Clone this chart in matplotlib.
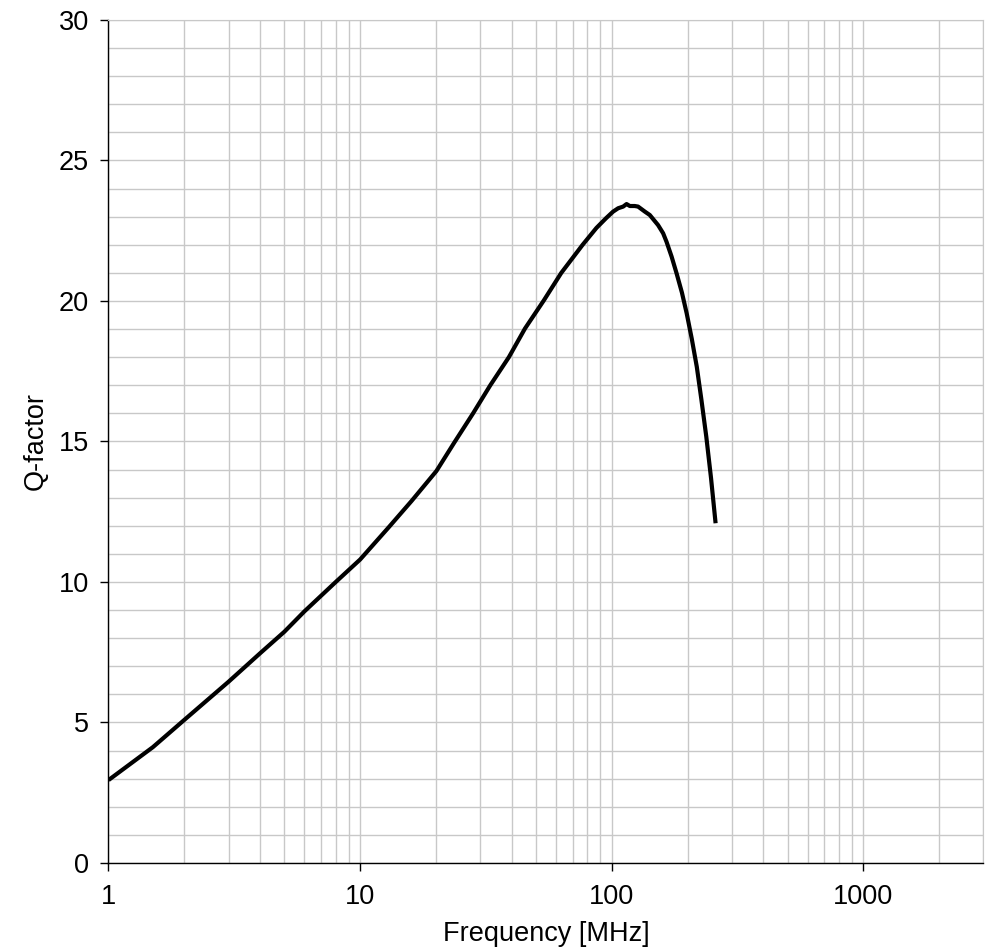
import matplotlib
matplotlib.use("Agg")
import matplotlib.pyplot as plt
from matplotlib.ticker import FixedLocator, NullFormatter

plt.rcParams['font.family'] = ['Liberation Sans', 'DejaVu Sans']

freq_mhz = [1, 1.5, 2, 3, 4, 5, 6, 8, 10, 13, 16, 20.1, 23.7, 28.1, 32.9, 39.0, 45.2,
            53.7, 63.0, 76.6, 86.9, 95, 101.2, 106, 111, 114.5, 118, 123.4, 127.2,
            135.4, 141.6, 152.8, 160, 165, 172.9, 181, 190, 198.5, 208, 217.7, 227,
            237.5, 248, 258.6]
q_factor = [2.95, 4.12, 5.09, 6.45, 7.46, 8.23, 8.95, 10.0, 10.8, 11.95, 12.88, 13.95,
            14.97, 16.0, 17.0, 18.0, 19.02, 20.02, 21.0, 22.0, 22.6, 22.95, 23.18, 23.30,
            23.36, 23.45, 23.38, 23.38, 23.36, 23.18, 23.06, 22.70, 22.41, 22.11, 21.58,
            20.98, 20.3, 19.56, 18.65, 17.66, 16.5, 15.17, 13.7, 12.09]

x_ticks = [1, 10, 100, 1000]
x_tick_labels = ["1", "10", "100", "1000"]
y_ticks = [0, 5, 10, 15, 20, 25, 30]

fig = plt.figure(figsize=(9.89, 9.52), dpi=100)
ax = fig.add_axes([0.1097, 0.0935, 0.8847, 0.8855])

ax.set_xscale('log')
ax.set_xlim(1, 3000)
ax.set_ylim(0, 30)

grid_color = '#c8c8c8'
minor_x = [m * 10 ** e for e in range(0, 4) for m in range(2, 10) if m * 10 ** e <= 3000]
ax.xaxis.set_major_locator(FixedLocator(x_ticks))
ax.xaxis.set_minor_locator(FixedLocator(minor_x))
ax.xaxis.set_minor_formatter(NullFormatter())
ax.set_xticklabels(x_tick_labels)
ax.yaxis.set_major_locator(FixedLocator(y_ticks))
ax.yaxis.set_minor_locator(FixedLocator(list(range(0, 31))))

ax.grid(True, which='both', color=grid_color, linewidth=1.0)
ax.set_axisbelow(True)

ax.plot(freq_mhz, q_factor, color='black', linewidth=3.0,
        solid_capstyle='butt', solid_joinstyle='round')

for s in ['top', 'right']:
    ax.spines[s].set_color(grid_color)
for s in ['left', 'bottom']:
    ax.spines[s].set_color('black')
    ax.spines[s].set_linewidth(1.0)

ax.tick_params(axis='both', which='major', direction='out', length=6, width=1.0,
               labelsize=19.5, color='black')
ax.tick_params(axis='x', which='major', pad=9)
ax.tick_params(axis='y', which='major', pad=8)
ax.tick_params(which='minor', length=0)

ax.set_xlabel('Frequency [MHz]', fontsize=19.5, labelpad=8)
ax.set_ylabel('Q-factor', fontsize=19.5, labelpad=7)

fig.savefig('out.png', dpi=100)
